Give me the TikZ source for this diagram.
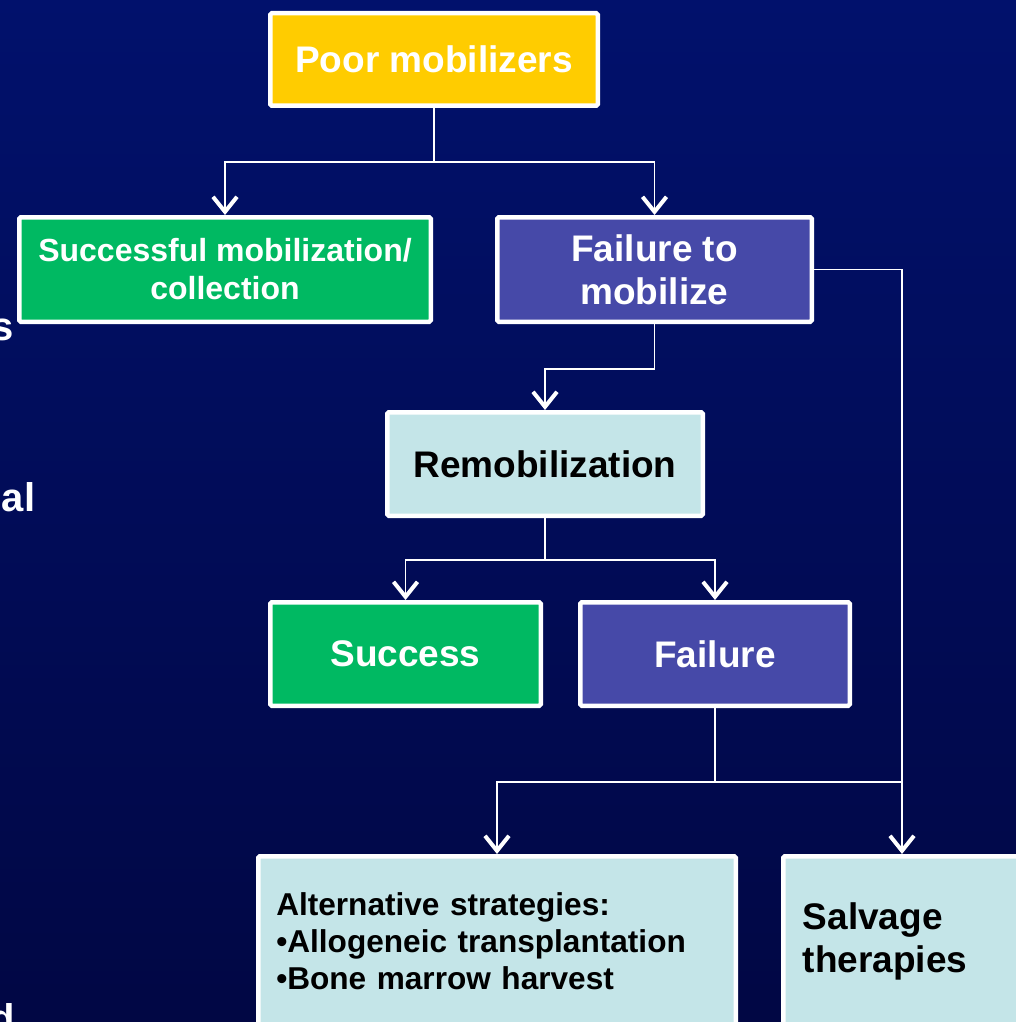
\documentclass[tikz,border=0pt]{standalone}
\usepackage{fontspec}
\setmainfont{Liberation Sans}
\usetikzlibrary{arrows.meta, positioning, calc}
\definecolor{slidetop}{RGB}{1,17,108}
\definecolor{slidebot}{RGB}{1,7,68}
\definecolor{mobyellow}{HTML}{FFCC00}
\definecolor{mobgreen}{HTML}{00B962}
\definecolor{mobpurple}{HTML}{4649A8}
\definecolor{mobpale}{HTML}{C4E5E8}

\begin{document}
\begin{tikzpicture}[x=1pt, y=-1pt,
    box/.style={draw=white, line width=4.5pt, rounded corners=1.5pt, inner sep=0pt,
                align=center, font=\bfseries\fontsize{37}{43}\selectfont},
    link/.style={white, line width=1.6pt,
                 -{Straight Barb[length=15pt, width=24pt, line width=4pt]}},
    wire/.style={white, line width=1.6pt},
    clipped/.style={anchor=base east, inner sep=0pt, text=white,
                    font=\bfseries\fontsize{40}{48}\selectfont},
  ]
    \useasboundingbox (0,0) rectangle (1016,1022);
    \clip (0,0) rectangle (1016,1022);
    \shade[top color=slidetop, bottom color=slidebot] (0,0) rectangle (1016,1022);

    % ends of the slide's left column, cut by the frame
    \node[clipped] (cut1) at (13.5,340) {s};
    \node[clipped] (cut2) at (35.5,511) {al};
    \node[clipped] (cut3) at (15,1032) {d};

    \node[box, fill=mobyellow, text=white, minimum width=327.5pt, minimum height=92.5pt]
      (poor) at (434,59.5) {Poor mobilizers};
    \node[box, fill=mobgreen, text=white, minimum width=411.5pt, minimum height=104.5pt,
          font=\bfseries\fontsize{32}{38}\selectfont]
      (okcoll) at (225,269.5) {Successful mobilization/\\collection};
    \node[box, fill=mobpurple, text=white, minimum width=314.5pt, minimum height=104.5pt]
      (nomob) at (654.5,269.5) {Failure to\\mobilize};
    \node[box, fill=mobpale, text=black, minimum width=315.5pt, minimum height=103.5pt]
      (remob) at (545,464) {Remobilization};
    \node[box, fill=mobgreen, text=white, minimum width=270.5pt, minimum height=103.5pt]
      (succ) at (405.5,654) {Success};
    \node[box, fill=mobpurple, text=white, minimum width=269.5pt, minimum height=103.5pt]
      (fail) at (715,654) {Failure};
    \node[box, fill=mobpale, text=black, minimum height=169.5pt, text width=441.5pt,
          inner xsep=18pt, align=left, font=\bfseries\fontsize{31.6}{37}\selectfont]
      (alt) at (497,941) {Alternative strategies:\\\textbullet Allogeneic transplantation\\
       \textbullet Bone marrow harvest};
    \node[box, fill=mobpale, text=black, minimum height=169.5pt, text width=198.5pt,
          inner xsep=19.5pt, align=left]
      (salv) at (902,941) {Salvage\\therapies};

    \draw[link] (poor.south) -- ++(0,54) -| (okcoll.north);
    \draw[link] (poor.south) -- ++(0,54) -| (nomob.north);
    \draw[link] (nomob.east) -| (salv.north);
    \draw[link] (nomob.south) -- ++(0,45) -| (remob.north);
    \draw[link] (remob.south) -- ++(0,42) -| (succ.north);
    \draw[link] (remob.south) -- ++(0,42) -| (fail.north);
    \draw[link] (fail.south) -- ++(0,74) coordinate (split) -| (alt.north);
    \draw[wire] (split) -- (split -| salv.north);
  \end{tikzpicture}
\end{document}
